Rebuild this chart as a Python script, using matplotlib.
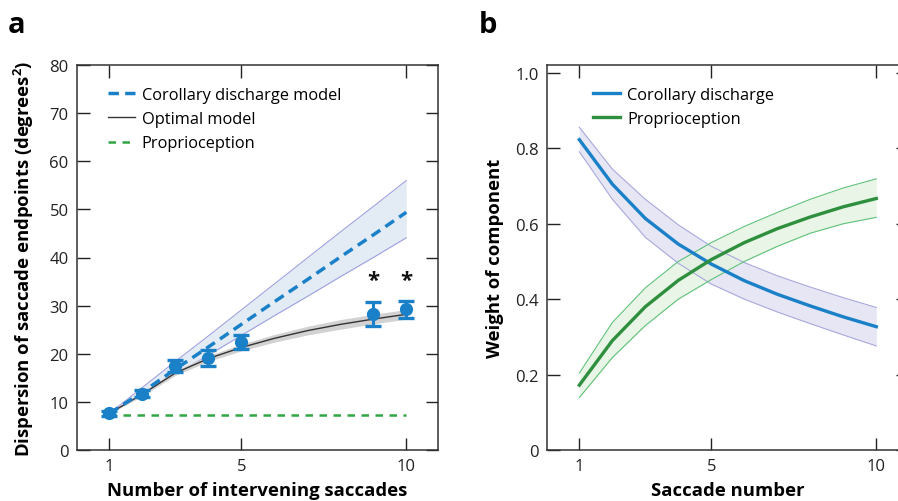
import matplotlib
matplotlib.use("Agg")
import matplotlib.pyplot as plt
import numpy as np

plt.rcParams['font.family'] = ['Open Sans', 'DejaVu Sans']

# ---- Panel a data ----
n_sacc = [1, 2, 3, 4, 5, 6, 7, 8, 9, 10]
cd_model = [7.6, 12.0, 16.8, 21.4, 26.1, 30.8, 35.4, 40.1, 44.7, 49.4]
cd_upper = [7.6, 13.0, 18.4, 23.7, 29.1, 34.5, 39.9, 45.3, 50.6, 56.0]
cd_lower = [7.6, 11.6, 15.7, 19.7, 23.8, 27.9, 31.9, 36.0, 40.0, 44.1]
opt_model = [7.6, 11.6, 16.0, 19.0, 21.3, 23.2, 24.8, 26.1, 27.2, 28.2]
opt_upper = [7.7, 12.0, 16.5, 19.6, 22.0, 24.0, 25.7, 27.1, 28.2, 29.2]
opt_lower = [7.5, 11.2, 15.5, 18.4, 20.6, 22.4, 23.9, 25.1, 26.2, 27.2]
prop_level = [7.3] * 10

obs_x = [1, 2, 3, 4, 5, 9, 10]
obs_y = [7.6, 11.7, 17.4, 19.1, 22.4, 28.2, 29.2]
obs_err = [0.5, 0.7, 1.2, 1.6, 1.5, 2.5, 1.7]
star_x = [9, 10]
star_y = 35.3

# ---- Panel b data ----
sacc_num = [1, 2, 3, 4, 5, 6, 7, 8, 9, 10]
w_cd = [0.823, 0.705, 0.614, 0.546, 0.493, 0.449, 0.413, 0.382, 0.353, 0.327]
w_cd_upper = [0.856, 0.745, 0.665, 0.597, 0.540, 0.497, 0.462, 0.432, 0.404, 0.378]
w_cd_lower = [0.791, 0.665, 0.564, 0.495, 0.440, 0.400, 0.366, 0.335, 0.305, 0.276]
w_prop = [0.172, 0.290, 0.380, 0.450, 0.505, 0.550, 0.587, 0.618, 0.645, 0.667]
w_prop_upper = [0.204, 0.338, 0.430, 0.500, 0.550, 0.593, 0.630, 0.665, 0.695, 0.719]
w_prop_lower = [0.139, 0.245, 0.330, 0.400, 0.452, 0.500, 0.540, 0.575, 0.600, 0.617]

BLUE = '#1a80c8'
GREEN = '#2e8f3e'
GREEN_A = '#34a544'

fig = plt.figure(figsize=(8.98, 5.02), dpi=100)
W, H = 898.0, 502.0
ax_a = fig.add_axes([77 / W, 1 - 451 / H, 361 / W, 385 / H])
ax_b = fig.add_axes([547 / W, 1 - 451 / H, 361 / W, 385 / H])

def style(ax):
    ax.tick_params(direction='in', length=9, width=1.0, top=True, right=True,
                   labelsize=12, colors='#222222', pad=6)
    for s in ax.spines.values():
        s.set_linewidth(1.1)
        s.set_color('#333333')
    ax.set_xlim(0.02, 10.96)

# Panel a
ax = ax_a
ax.fill_between(n_sacc, cd_lower, cd_upper, color='#e3ecf4', lw=0, zorder=1)
ax.plot(n_sacc, cd_upper, color='#a0a0e0', lw=0.8, zorder=2)
ax.plot(n_sacc, cd_lower, color='#a0a0e0', lw=0.8, zorder=2)
ax.fill_between(n_sacc, opt_lower, opt_upper, color='#d2d2d2', lw=0, zorder=2)
ax.plot(n_sacc, prop_level, color=GREEN_A, lw=1.8, dashes=(3, 2.6), zorder=3,
        label='Proprioception')
ax.plot(n_sacc, opt_model, color='#333333', lw=1.0, zorder=3, label='Optimal model')
ax.plot(n_sacc, cd_model, color=BLUE, lw=2.5, dashes=(3, 1.8), zorder=4,
        label='Corollary discharge model')
ax.errorbar(obs_x, obs_y, yerr=obs_err, fmt='o', color=BLUE, ms=8.5, elinewidth=2.2,
            capsize=5.5, capthick=2.4, zorder=5)
for sx in star_x:
    ax.text(sx, star_y, '*', ha='center', va='center', fontsize=16, fontweight='bold',
            color='#111111')
style(ax)
ax.set_ylim(0, 80)
ax.set_yticks([0, 10, 20, 30, 40, 50, 60, 70, 80])
ax.set_xticks([1, 5, 10])
ax.set_xlabel('Number of intervening saccades', fontsize=13.3, fontweight='bold', labelpad=5)
ax.set_ylabel('Dispersion of saccade endpoints (degrees$^\\mathregular{2}$)', fontsize=13.3,
              fontweight='bold', labelpad=10)
h, l = ax.get_legend_handles_labels()
order = [2, 1, 0]
ax.legend([h[i] for i in order], [l[i] for i in order], loc='upper left',
          bbox_to_anchor=(0.085, 0.943), frameon=False, fontsize=11.8, borderpad=0,
          borderaxespad=0, handlelength=1.65, handletextpad=0.42, labelspacing=0.5)

# Panel b
ax = ax_b
ax.fill_between(sacc_num, w_cd_lower, w_cd_upper, color='#e6e6f5', lw=0, zorder=1)
ax.fill_between(sacc_num, w_prop_lower, w_prop_upper, color='#e4f3e0', alpha=0.8, lw=0, zorder=1)
for arr in (w_cd_upper, w_cd_lower):
    ax.plot(sacc_num, arr, color='#a8a8dc', lw=0.8, zorder=2)
for arr in (w_prop_upper, w_prop_lower):
    ax.plot(sacc_num, arr, color='#5fc27a', lw=0.8, zorder=2)
ax.plot(sacc_num, w_cd, color=BLUE, lw=2.4, zorder=3, label='Corollary discharge')
ax.plot(sacc_num, w_prop, color=GREEN, lw=2.4, zorder=3, label='Proprioception')
style(ax)
ax.set_ylim(0, 1.021)
ax.set_yticks([0, 0.2, 0.4, 0.6, 0.8, 1.0])
ax.set_yticklabels(['0', '0.2', '0.4', '0.6', '0.8', '1.0'])
ax.set_xticks([1, 5, 10])
ax.set_xlabel('Saccade number', fontsize=13.3, fontweight='bold', labelpad=5)
ax.set_ylabel('Weight of component', fontsize=13.3, fontweight='bold', labelpad=8)
ax.legend(loc='upper left', bbox_to_anchor=(0.128, 0.943), frameon=False, fontsize=11.8,
          borderpad=0, borderaxespad=0, handlelength=1.65, handletextpad=0.42,
          labelspacing=0.5)

fig.text(8 / W, 1 - 33 / H, 'a', fontsize=21, fontweight='bold', va='baseline', ha='left')
fig.text(479 / W, 1 - 33 / H, 'b', fontsize=21, fontweight='bold', va='baseline', ha='left')

fig.savefig('out.png', dpi=100)
